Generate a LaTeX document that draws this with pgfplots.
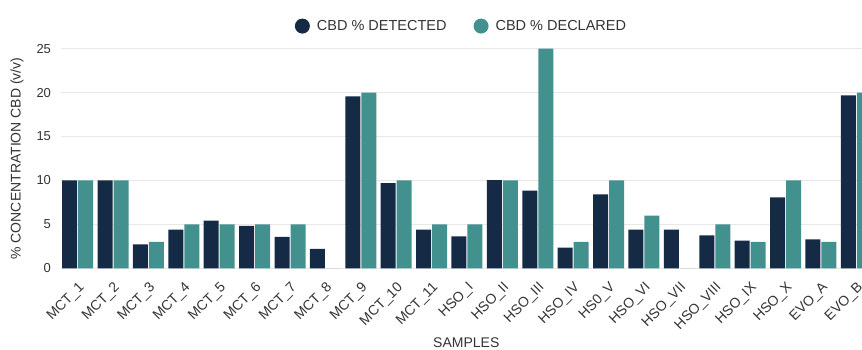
\documentclass[border=0pt]{standalone}
\usepackage{pgfplots}
\pgfplotsset{compat=1.18}
\usepackage{fontspec}
\setmainfont{Liberation Sans}
\definecolor{navy}{HTML}{152A45}
\definecolor{tealc}{HTML}{43918F}
\definecolor{txt}{HTML}{333333}
\definecolor{gridc}{HTML}{E8E8E8}
\begin{document}
\begin{tikzpicture}
\begin{axis}[
  at={(0pt,0pt)}, anchor=south west,
  scale only axis, width=801pt, height=219.6pt,
  ybar, bar width=15pt,
  xmin=-0.47, xmax=22.16, ymin=0, ymax=25,
  xtick={0,...,22},
  xticklabels={MCT\_1,MCT\_2,MCT\_3,MCT\_4,MCT\_5,MCT\_6,MCT\_7,MCT\_8,MCT\_9,MCT\_10,MCT\_11,HSO\_I,HSO\_II,HSO\_III,HSO\_IV,HS0\_V,HSO\_VI,HSO\_VII,HSO\_VIII,HSO\_IX,HSO\_X,EVO\_A,EVO\_B},
  ytick={0,5,...,25},
  axis line style={draw=none},
  major tick length=0pt,
  ymajorgrids, grid style={gridc, line width=0.8pt},
  /pgf/number format/assume math mode=true,
  tick label style={font=\fontsize{13}{15}\selectfont, text=txt},
  yticklabel style={xshift=-6.5pt},
  xticklabel style={font=\fontsize{14}{16}\selectfont, xshift=0pt, yshift=-8pt, rotate=45, anchor=north east},
  every axis y label/.style={at={(axis description cs:-0.0549,0.5)}, rotate=90, anchor=center, font=\fontsize{14}{16}\selectfont, text=txt},
  every axis x label/.style={at={(axis description cs:0.506,-0.34)}, anchor=center, font=\fontsize{14}{16}\selectfont, text=txt},
  ylabel={\% CONCENTRATION CBD (v/v)},
  xlabel={SAMPLES},
  legend style={draw=none, fill=none, at={(axis description cs:0.5,1.103)}, anchor=center,
    legend columns=2, font=\fontsize{14.5}{16}\selectfont, text=txt,
    /tikz/every even column/.append style={column sep=25pt}},
  legend image code/.code={\fill[#1] (0cm,0cm) circle (7.5pt); \path (12.5pt,0pt);},
  clip=true,
]
\addplot[fill=navy, draw=none, bar shift=-8pt] coordinates {
(0,10) (1,10) (2,2.73) (3,4.4) (4,5.42) (5,4.82) (6,3.57) (7,2.2) (8,19.57) (9,9.71) (10,4.4)
(11,3.64) (12,10.05) (13,8.84) (14,2.35) (15,8.42) (16,4.4) (17,4.4) (18,3.76) (19,3.15) (20,8.08) (21,3.3) (22,19.69)};
\addplot[fill=tealc, draw=none, bar shift=8pt] coordinates {
(0,10) (1,10) (2,3) (3,5) (4,5) (5,5) (6,5) (7,0) (8,20) (9,10) (10,5)
(11,5) (12,10) (13,25) (14,3) (15,10) (16,6) (17,0) (18,5) (19,3) (20,10) (21,3) (22,20)};
\legend{CBD \% DETECTED, CBD \% DECLARED}
\end{axis}
\pgfresetboundingbox
\path[use as bounding box] (-61pt,-81.7pt) rectangle (801pt,268.3pt);
\end{tikzpicture}
\end{document}
